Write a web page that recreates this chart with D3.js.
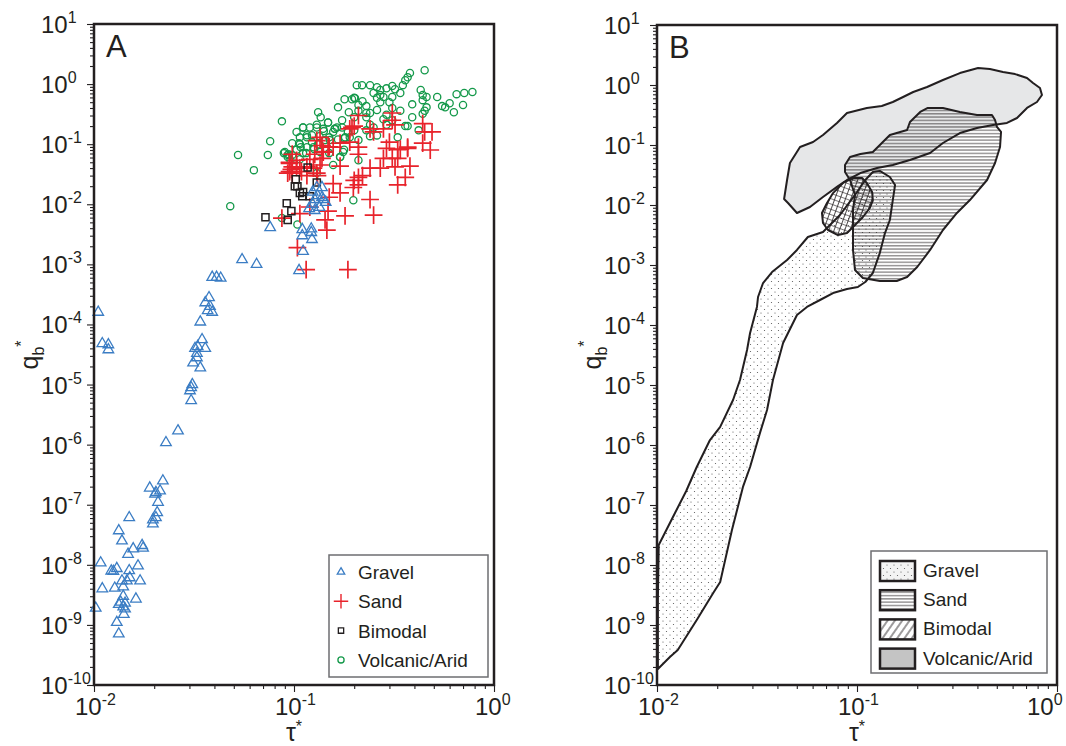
<!DOCTYPE html>
<html>
<head>
<meta charset="utf-8">
<script src="https://cdn.jsdelivr.net/npm/d3@7"></script>
<style>
  body { margin: 0; background: #fff; }
  text { font-family: "Liberation Sans", Arial, sans-serif; fill: #231f20; }
</style>
</head>
<body>
<svg id="chart" width="1066" height="746"></svg>
<script>
// ---- panel A : measured points [tau*, qb*] ----
var gravelPts = [
  [0.0105,1.6e-4],[0.011,4.8e-5],[0.0118,4.6e-5],[0.0118,3.8e-5],
  [0.055,1.2e-3],[0.065,1.0e-3],[0.039,6.1e-4],[0.041,6.1e-4],[0.043,5.9e-4],
  [0.0376,2.8e-4],[0.036,2.3e-4],[0.038,2.0e-4],[0.037,1.7e-4],[0.039,1.6e-4],[0.034,1.1e-4],
  [0.0347,5.6e-5],[0.032,4.0e-5],[0.033,4.3e-5],[0.036,4.0e-5],[0.0327,3.3e-5],[0.0327,2.8e-5],
  [0.0313,2.3e-5],[0.034,1.9e-5],[0.031,1.0e-5],[0.0306,8.9e-6],[0.0302,7.9e-6],[0.0306,5.4e-6],
  [0.0263,1.7e-6],[0.0229,1.08e-6],[0.0221,2.5e-7],[0.019,1.9e-7],[0.0204,1.6e-7],[0.0214,1.7e-7],
  [0.0202,1.5e-7],[0.0209,1.1e-7],[0.0207,7.4e-8],[0.0204,6.1e-8],[0.0197,5.6e-8],[0.0197,4.8e-8],
  [0.015,6.1e-8],[0.0133,3.7e-8],[0.0138,2.5e-8],[0.0157,1.85e-8],[0.0148,1.5e-8],[0.0174,2.1e-8],
  [0.0176,1.9e-8],[0.0108,1.08e-8],[0.0122,7.9e-9],[0.013,8.7e-9],[0.0125,7.8e-9],[0.0166,9.6e-9],
  [0.015,8.0e-9],[0.0151,6.1e-9],[0.0138,5.4e-9],[0.0146,5.4e-9],[0.0127,4.1e-9],[0.014,4.3e-9],
  [0.017,5.4e-9],[0.011,4.0e-9],[0.0162,2.7e-9],[0.014,3.0e-9],[0.0133,2.2e-9],[0.014,2.0e-9],
  [0.0143,1.85e-9],[0.0136,2.4e-9],[0.0143,2.3e-9],[0.0102,1.9e-9],[0.0141,1.5e-9],[0.013,1.1e-9],
  [0.0133,7.1e-10],
  [0.076,4.1e-3],[0.11,3.8e-3],[0.122,3.9e-3],[0.11,3.0e-3],[0.122,3.4e-3],[0.123,2.6e-3],
  [0.111,1.65e-3],[0.106,7.9e-4],[0.138,0.019],[0.124,0.016],[0.131,0.014],[0.138,0.013],
  [0.127,0.012],[0.14,0.012],[0.124,0.010],[0.134,8.9e-3],[0.119,8.5e-3],[0.127,7.9e-3],
  [0.144,0.0108],[0.13,0.019]
];
var sandPts = [
  [0.087,5.9e-3],[0.107,7.0e-3],[0.12,9.0e-3],[0.143,5.5e-3],[0.148,7.7e-3],[0.146,3.7e-3],
  [0.104,1.9e-3],[0.115,8.2e-4],[0.186,8.2e-4],[0.18,6.4e-3],[0.15,0.0131],[0.17,0.0155],
  [0.157,0.022],[0.198,0.019],[0.21,0.021],[0.2,0.025],[0.21,0.028],[0.22,0.03],[0.24,0.012],
  [0.25,6.6e-3],[0.24,0.04],[0.27,0.04],[0.28,0.058],[0.31,0.058],[0.33,0.058],[0.32,0.042],
  [0.38,0.043],[0.33,0.021],[0.36,0.028],[0.29,0.085],[0.30,0.108],[0.34,0.083],[0.37,0.085],
  [0.44,0.104],[0.45,0.16],[0.49,0.16],[0.48,0.08],[0.44,0.22],[0.31,0.33],[0.31,0.25],
  [0.32,0.21],[0.28,0.18],[0.25,0.16],[0.21,0.30],[0.2,0.2],[0.195,0.19],[0.21,0.068],
  [0.19,0.108],[0.17,0.104],[0.157,0.089],[0.148,0.089],[0.135,0.13],[0.14,0.074],[0.127,0.068],
  [0.12,0.056],[0.135,0.045],[0.17,0.043],[0.125,0.04],[0.131,0.03],[0.116,0.03],[0.098,0.068],
  [0.098,0.042],[0.095,0.048],[0.093,0.033],[0.098,0.033],[0.107,0.04],[0.103,0.054],[0.21,0.089],
  [0.19,0.18],[0.24,0.18],[0.33,0.081],[0.37,0.089],
  [0.095,0.05],[0.097,0.038],[0.095,0.035],[0.103,0.041],[0.116,0.042],[0.109,0.035],
  [0.13,0.033],[0.138,0.058],[0.13,0.115],[0.138,0.095],[0.15,0.09],[0.14,0.075]
];
var bimodalPts = [
  [0.072,6.1e-3],[0.092,0.0104],[0.097,7.7e-3],[0.093,5.5e-3],[0.102,0.026],[0.101,0.020],
  [0.104,0.020],[0.107,0.0155],[0.11,0.0136],[0.111,0.016],[0.12,0.0136],[0.13,0.023],[0.117,0.041]
];
var volcanicPts = [
  [0.0525,0.066],[0.063,0.037],[0.074,0.066],[0.076,0.112],[0.087,0.24],[0.09,0.074],[0.094,0.068],
  [0.098,0.104],[0.103,0.16],[0.108,0.089],[0.107,0.056],[0.111,0.19],[0.12,0.19],[0.116,0.141],
  [0.13,0.21],[0.132,0.34],[0.136,0.28],[0.148,0.23],[0.123,0.108],[0.116,0.089],[0.126,0.083],
  [0.115,0.071],[0.141,0.165],[0.16,0.18],[0.164,0.19],[0.174,0.25],[0.166,0.41],[0.179,0.56],
  [0.195,0.56],[0.188,0.34],[0.202,0.58],[0.157,0.045],[0.17,0.061],[0.178,0.081],[0.179,0.126],
  [0.103,0.081],[0.093,0.061],[0.096,0.054],[0.106,0.104],[0.132,0.1],[0.134,0.136],[0.151,0.117],
  [0.206,0.96],[0.048,9.3e-3],
  [0.219,0.96],[0.24,0.96],[0.26,0.89],[0.27,0.8],[0.29,0.85],[0.31,0.93],[0.32,0.82],[0.25,0.71],
  [0.27,0.66],[0.28,0.61],[0.31,0.61],[0.34,0.71],[0.26,0.59],[0.35,0.96],[0.36,1.16],[0.37,1.3],
  [0.38,1.53],[0.45,1.7],[0.43,0.8],[0.44,0.66],[0.46,0.61],[0.44,0.54],[0.52,0.61],[0.65,0.68],
  [0.71,0.71],[0.78,0.74],[0.70,0.45],[0.63,0.34],[0.6,0.48],[0.55,0.43],[0.57,0.41],[0.46,0.41],
  [0.45,0.36],[0.44,0.32],[0.39,0.46],[0.39,0.28],[0.42,0.17],[0.37,0.2],[0.36,0.2],[0.34,0.36],
  [0.33,0.13],[0.31,0.40],[0.29,0.31],[0.28,0.26],[0.26,0.37],[0.24,0.33],[0.23,0.43],[0.21,0.45],
  [0.22,0.52],[0.2,0.59],[0.21,0.36],[0.24,0.21],[0.25,0.19],[0.23,0.17],[0.26,0.14],[0.24,0.136],
  [0.21,0.117],[0.2,0.17],[0.19,0.13],[0.18,0.13],[0.174,0.19],[0.16,0.18],[0.157,0.16],[0.15,0.13],
  [0.148,0.23],[0.14,0.18],[0.13,0.19],[0.123,0.141],[0.116,0.13],[0.107,0.13],[0.125,0.089],
  [0.135,0.074],[0.15,0.071],[0.176,0.074],[0.17,0.061],[0.21,0.054],[0.198,0.0117],
  [0.104,4.6e-3],[0.087,5.9e-3],[0.13,0.033],[0.089,0.071],[0.093,0.066],[0.098,0.066],[0.107,0.1],
  [0.111,0.071],[0.111,0.19],[0.143,0.117],[0.166,0.12],[0.186,0.16],[0.2,0.28],[0.23,0.28],
  [0.23,0.33],[0.27,0.5],[0.3,0.5],[0.29,0.21],[0.31,0.25]
];

// ---- panel B : field outlines [tau*, qb*] ----
var volcanicField = [
  [0.0501,7.36e-3],[0.0452,0.0108],[0.0432,0.0126],[0.0447,0.0261],[0.0462,0.0501],[0.0519,0.0926],
  [0.0603,0.112],[0.0676,0.147],[0.0794,0.233],[0.0891,0.341],[0.112,0.414],[0.133,0.447],
  [0.151,0.521],[0.170,0.631],[0.191,0.764],[0.224,0.926],[0.269,1.21],[0.327,1.58],[0.403,1.92],
  [0.462,1.85],[0.537,1.65],[0.617,1.52],[0.708,1.31],[0.759,1.08],[0.822,0.891],[0.841,0.681],
  [0.794,0.521],[0.708,0.414],[0.631,0.282],[0.562,0.233],[0.479,0.215],[0.398,0.192],[0.327,0.158],
  [0.269,0.108],[0.232,0.0736],[0.184,0.0562],[0.151,0.0464],[0.126,0.0414],[0.104,0.0341],
  [0.0891,0.0261],[0.0794,0.020],[0.0676,0.0136],[0.0582,9.26e-3]
];
var sandField = [
  [0.0871,0.0464],[0.0923,0.0631],[0.104,0.0708],[0.120,0.0764],[0.146,0.147],[0.178,0.178],
  [0.184,0.242],[0.207,0.355],[0.226,0.414],[0.269,0.414],[0.327,0.355],[0.398,0.316],[0.473,0.316],
  [0.490,0.261],[0.501,0.20],[0.525,0.165],[0.519,0.0926],[0.490,0.0501],[0.447,0.0261],
  [0.367,0.0121],[0.316,7.36e-3],[0.269,3.83e-3],[0.232,1.78e-3],[0.20,9.26e-4],[0.178,6.31e-4],
  [0.158,5.41e-4],[0.130,5.41e-4],[0.107,6.07e-4],[0.0977,8.26e-4],[0.0955,1.78e-3],[0.0955,3.83e-3],
  [0.0955,8.26e-3],[0.0977,0.0147],[0.0923,0.0261],[0.0871,0.0355]
];
var gravelField = [
  [0.0101,1.85e-10],[0.0101,2.61e-9],[0.0102,2.15e-8],[0.0123,7.36e-8],[0.0140,1.71e-7],[0.0158,4.30e-7],
  [0.0184,1.21e-6],[0.0207,2.0e-6],[0.0240,5.62e-6],[0.0260,1.21e-5],[0.0282,3.83e-5],[0.0292,7.36e-5],
  [0.0316,2.0e-4],[0.0320,2.93e-4],[0.0339,5.01e-4],[0.0376,7.64e-4],[0.0447,1.21e-3],[0.0501,1.78e-3],
  [0.0568,2.93e-3],[0.0676,3.55e-3],[0.0822,6.81e-3],[0.0977,0.0147],[0.110,0.0261],[0.120,0.0355],
  [0.130,0.0369],[0.146,0.0293],[0.155,0.0215],[0.151,0.0121],[0.146,5.62e-3],[0.138,3.41e-3],
  [0.130,1.58e-3],[0.120,7.36e-4],[0.110,5.21e-4],[0.101,4.30e-4],[0.0891,3.98e-4],[0.0759,3.41e-4],
  [0.0653,2.61e-4],[0.0562,2.0e-4],[0.0501,1.47e-4],[0.0427,5.01e-5],[0.0380,1.21e-5],[0.0355,3.83e-6],
  [0.0327,1.58e-6],[0.0292,4.30e-7],[0.0269,2.0e-7],[0.0237,3.83e-8],[0.0207,5.21e-9],[0.0191,3.41e-9],
  [0.0158,1.21e-9],[0.0127,3.83e-10],[0.0116,2.93e-10]
];
var bimodalField = [
  [0.0668,7.36e-3],[0.0708,0.0108],[0.0759,0.0158],[0.0851,0.0233],[0.0955,0.0282],[0.106,0.0282],
  [0.112,0.0233],[0.119,0.0165],[0.120,0.0121],[0.116,8.91e-3],[0.107,6.31e-3],[0.0955,4.30e-3],
  [0.0891,3.41e-3],[0.0803,3.16e-3],[0.0716,3.83e-3],[0.0676,5.01e-3]
];

var categories = ["Gravel", "Sand", "Bimodal", "Volcanic/Arid"];
var tauTicks = [1e-2, 1e-1, 1];
var qbTicks = [1e-10,1e-9,1e-8,1e-7,1e-6,1e-5,1e-4,1e-3,1e-2,1e-1,1,10];

var ink = "#231f20";
var svg = d3.select("#chart");
svg.append("rect").attr("width", 1066).attr("height", 746).attr("fill", "#fff");

// patterns for the fields
var defs = svg.append("defs");
var pSand = defs.append("pattern").attr("id", "sandPat").attr("patternUnits", "userSpaceOnUse")
  .attr("width", 8).attr("height", 3.3);
pSand.append("line").attr("x1", 0).attr("x2", 8).attr("y1", 1.6).attr("y2", 1.6)
  .attr("stroke", ink).attr("stroke-width", 0.8);

var pGrav = defs.append("pattern").attr("id", "gravPat").attr("patternUnits", "userSpaceOnUse")
  .attr("width", 7).attr("height", 7);
pGrav.append("circle").attr("cx", 1.5).attr("cy", 1.5).attr("r", 0.6).attr("fill", "#555");
pGrav.append("circle").attr("cx", 5).attr("cy", 5).attr("r", 0.6).attr("fill", "#555");

var pBim = defs.append("pattern").attr("id", "bimPat").attr("patternUnits", "userSpaceOnUse")
  .attr("width", 5).attr("height", 5).attr("patternTransform", "rotate(20)");
pBim.append("line").attr("x1", 2.5).attr("x2", 2.5).attr("y1", 0).attr("y2", 5)
  .attr("stroke", ink).attr("stroke-width", 0.8);
pBim.append("line").attr("x1", 0).attr("x2", 5).attr("y1", 2.5).attr("y2", 2.5)
  .attr("stroke", ink).attr("stroke-width", 0.6);

var pBimLeg = defs.append("pattern").attr("id", "bimLegPat").attr("patternUnits", "userSpaceOnUse")
  .attr("width", 6).attr("height", 6).attr("patternTransform", "rotate(35)");
pBimLeg.append("line").attr("x1", 3).attr("x2", 3).attr("y1", 0).attr("y2", 6)
  .attr("stroke", ink).attr("stroke-width", 0.9);

function drawPanel(p) {
  var x = d3.scaleLog().domain([1e-2, 1]).range([p.left, p.right]);
  var y = d3.scaleLog().domain([1e-10, 10]).range([p.bottom, p.top]);
  var g = svg.append("g");

  var xMinor = x.ticks().filter(function (v) { return tauTicks.indexOf(v) < 0; });
  var yMinor = y.ticks(30).filter(function (v) { return qbTicks.indexOf(v) < 0; });

  [d3.axisBottom(x).tickValues(xMinor).tickSize(4), d3.axisBottom(x).tickValues(tauTicks).tickSize(7)]
    .forEach(function (a) {
      g.append("g").attr("transform", "translate(0," + p.bottom + ")").call(a.tickFormat(""));
    });
  [d3.axisLeft(y).tickValues(yMinor).tickSize(4), d3.axisLeft(y).tickValues(qbTicks).tickSize(7)]
    .forEach(function (a) {
      g.append("g").attr("transform", "translate(" + p.left + ",0)").call(a.tickFormat(""));
    });
  g.selectAll(".domain").remove();
  g.selectAll(".tick line").attr("stroke", ink).attr("stroke-width", 1.1);

  // y tick labels 10^n
  qbTicks.forEach(function (v) {
    var t = g.append("text").attr("x", p.left - 53).attr("y", y(v) + 9).attr("font-size", 24);
    t.append("tspan").text("10");
    t.append("tspan").attr("dy", -10).attr("font-size", 16).text(Math.round(Math.log10(v)));
  });
  // x tick labels, kept inside the page on the right
  tauTicks.forEach(function (v) {
    var lx = Math.min(x(v) - 19, 1027);
    var t = g.append("text").attr("x", lx).attr("y", 715).attr("font-size", 24);
    t.append("tspan").text("10");
    t.append("tspan").attr("dy", -10).attr("font-size", 16).text(Math.round(Math.log10(v)));
  });

  // axis titles
  var xt = g.append("text").attr("x", x(0.1)).attr("y", 741).attr("text-anchor", "middle")
    .attr("font-size", 25);
  xt.append("tspan").text("\u03c4");
  xt.append("tspan").attr("dy", -9).attr("font-size", 16).text("*");

  var yt = g.append("text").attr("transform", "translate(" + (p.left - 56) + ",355) rotate(-90)")
    .attr("text-anchor", "middle").attr("font-size", 25);
  yt.append("tspan").text("q");
  yt.append("tspan").attr("dy", 6).attr("font-size", 16).text("b");
  yt.append("tspan").attr("dy", -17).attr("font-size", 16).text("*");

  return { x: x, y: y, g: g };
}

function drawFrame(p, letter) {
  svg.append("rect").attr("x", p.left).attr("y", p.top)
    .attr("width", p.right - p.left).attr("height", p.bottom - p.top)
    .attr("fill", "none").attr("stroke", ink).attr("stroke-width", 2.5);
  svg.append("text").attr("x", p.left + 12).attr("y", p.top + 33).attr("font-size", 31).text(letter);
}

// ---------- panel A ----------
var pA = { left: 94, right: 494, top: 24, bottom: 685 };
var A = drawPanel(pA);
var blue = "#3b7dc4", red = "#e8232b", green = "#14994a";

var marks = A.g.append("g");
marks.selectAll(".vol").data(volcanicPts).enter().append("circle")
  .attr("cx", function (d) { return A.x(d[0]); }).attr("cy", function (d) { return A.y(d[1]); })
  .attr("r", 3.6).attr("fill", "none").attr("stroke", green).attr("stroke-width", 1.3);
marks.selectAll(".sand").data(sandPts).enter().append("path")
  .attr("d", d3.symbol(d3.symbolPlus, 105))
  .attr("transform", function (d) { return "translate(" + A.x(d[0]) + "," + A.y(d[1]) + ")"; })
  .attr("fill", "none").attr("stroke", red).attr("stroke-width", 1.7);
marks.selectAll(".bim").data(bimodalPts).enter().append("path")
  .attr("d", d3.symbol(d3.symbolSquare2, 64))
  .attr("transform", function (d) { return "translate(" + A.x(d[0]) + "," + A.y(d[1]) + ")"; })
  .attr("fill", "none").attr("stroke", ink).attr("stroke-width", 1.5);
marks.selectAll(".grav").data(gravelPts).enter().append("path")
  .attr("d", d3.symbol(d3.symbolTriangle2, 80))
  .attr("transform", function (d) { return "translate(" + A.x(d[0]) + "," + A.y(d[1]) + ")"; })
  .attr("fill", "none").attr("stroke", blue).attr("stroke-width", 1.3);

drawFrame(pA, "A");

// legend A
var legA = svg.append("g");
legA.append("rect").attr("x", 329).attr("y", 555).attr("width", 159).attr("height", 122)
  .attr("fill", "#fff").attr("stroke", "#6d6e71").attr("stroke-width", 1.5);
var legMarks = [
  { d: d3.symbol(d3.symbolTriangle2, 40)(), c: blue, w: 1.3 },
  { d: d3.symbol(d3.symbolPlus, 70)(), c: red, w: 1.4 },
  { d: d3.symbol(d3.symbolSquare2, 36)(), c: ink, w: 1.3 },
  { d: d3.symbol(d3.symbolCircle, 30)(), c: green, w: 1.3 }
];
categories.forEach(function (name, i) {
  var cy = 572 + i * 29.3;
  legA.append("path").attr("d", legMarks[i].d).attr("transform", "translate(341," + cy + ")")
    .attr("fill", "none").attr("stroke", legMarks[i].c).attr("stroke-width", legMarks[i].w);
  legA.append("text").attr("x", 358).attr("y", cy + 7).attr("font-size", 19).text(name);
});

// ---------- panel B ----------
var pB = { left: 657, right: 1057, top: 25, bottom: 685 };
var B = drawPanel(pB);
var line = d3.line().x(function (d) { return B.x(d[0]); }).y(function (d) { return B.y(d[1]); })
  .curve(d3.curveLinearClosed);

var fields = [
  { pts: volcanicField, fill: "#e6e7e8" },
  { pts: gravelField, fill: "url(#gravPat)" },
  { pts: sandField, fill: "url(#sandPat)" },
  { pts: bimodalField, fill: "url(#bimPat)" }
];
var fg = B.g.append("g");
fields.forEach(function (f) {
  fg.append("path").attr("d", line(f.pts)).attr("fill", f.fill).attr("stroke", "none");
});
fields.forEach(function (f) {
  fg.append("path").attr("d", line(f.pts)).attr("fill", "none")
    .attr("stroke", ink).attr("stroke-width", 2).attr("stroke-linejoin", "round");
});

drawFrame(pB, "B");

// legend B
var legB = svg.append("g");
legB.append("rect").attr("x", 871).attr("y", 551).attr("width", 176).attr("height", 122)
  .attr("fill", "#fff").attr("stroke", "#6d6e71").attr("stroke-width", 1.5);
var swatchFill = ["url(#gravPat)", "url(#sandPat)", "url(#bimLegPat)", "#c4c4c4"];
categories.forEach(function (name, i) {
  var top = 561 + i * 29.2;
  if (i === 0) {
    legB.append("rect").attr("x", 880).attr("y", top).attr("width", 35).attr("height", 20)
      .attr("fill", "#f3f3f3");
  }
  legB.append("rect").attr("x", 880).attr("y", top).attr("width", 35).attr("height", 20)
    .attr("fill", swatchFill[i]).attr("stroke", ink).attr("stroke-width", 2.5);
  legB.append("text").attr("x", 923).attr("y", top + 16).attr("font-size", 19).text(name);
});
</script>
</body>
</html>
